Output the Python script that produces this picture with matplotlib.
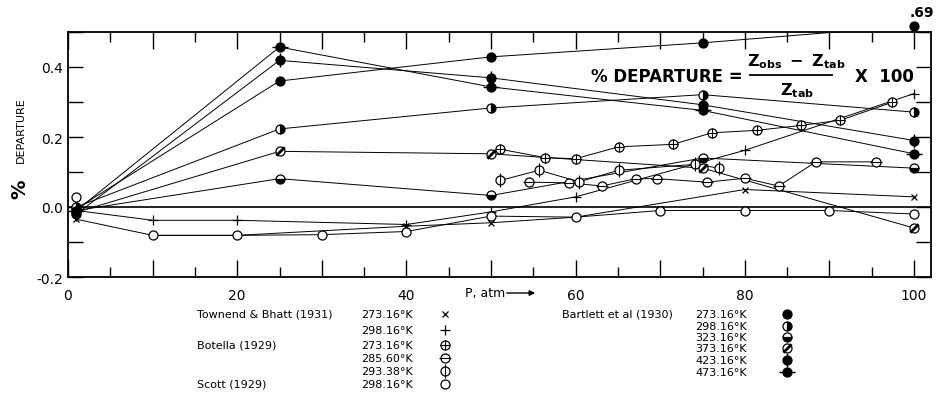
import numpy as np
import matplotlib
matplotlib.use("Agg")
import matplotlib.pyplot as plt
from matplotlib.path import Path
from matplotlib.lines import Line2D
from matplotlib.ticker import FixedLocator, MultipleLocator, FuncFormatter

# Bartlett et al (1930)
bartlett_p = [1, 25, 50, 75, 100]
bartlett_273 = [-0.005, 0.36, 0.429, 0.469, 0.69]
bartlett_298 = [0.0, 0.223, 0.283, 0.321, 0.271]
bartlett_323 = [-0.01, 0.081, 0.033, 0.14, 0.111]
bartlett_373 = [-0.015, 0.159, 0.152, 0.111, -0.06]
bartlett_423 = [-0.02, 0.419, 0.369, 0.292, 0.19]
bartlett_473 = [-0.01, 0.457, 0.343, 0.276, 0.152]

# Townend & Bhatt (1931)
townend_p = [1, 10, 20, 40, 50, 60, 80, 100]
townend_273 = [-0.035, -0.081, -0.081, -0.055, -0.045, -0.029, 0.05, 0.029]
townend_298 = [-0.01, -0.038, -0.038, -0.05, -0.014, 0.029, 0.162, 0.324]

# Scott (1929)
scott_p = [1, 10, 20, 30, 40, 50, 60, 70, 80, 90, 100]
scott_298 = [0.03, -0.081, -0.081, -0.079, -0.07, -0.026, -0.029, -0.01, -0.01, -0.01, -0.02]

# Botella (1929)
botella_273_p = [51.1, 56.4, 60.0, 65.1, 71.5, 76.1, 81.4, 86.6, 91.3, 97.4]
botella_273 = [0.165, 0.141, 0.138, 0.172, 0.179, 0.212, 0.219, 0.233, 0.248, 0.299]
botella_285_p = [54.5, 59.2, 63.1, 67.1, 69.6, 75.5, 80.0, 84.0, 88.4, 95.5]
botella_285 = [0.071, 0.069, 0.06, 0.081, 0.081, 0.071, 0.082, 0.06, 0.129, 0.129]
botella_293_p = [51.1, 55.7, 60.4, 65.1, 74.1, 77.0]
botella_293 = [0.076, 0.105, 0.072, 0.105, 0.122, 0.111]

W, H = 941, 406
SLASH = Path([(-0.8, -0.8), (0.8, 0.8)], [Path.MOVETO, Path.LINETO])


def draw_marker(ax, x, y, kind, **kw):
    k = dict(ls="none", color="k", zorder=4, clip_on=False)
    k.update(kw)
    if kind == "x":
        ax.plot(x, y, marker="x", ms=5, mew=0.9, **k)
    elif kind == "+":
        ax.plot(x, y, marker="+", ms=7, mew=0.9, **k)
    elif kind == "o":
        ax.plot(x, y, marker="o", ms=6.5, mfc="white", mew=0.9, **k)
    elif kind == "oplus":
        ax.plot(x, y, marker="o", ms=6.5, mfc="white", mew=0.9, **k)
        ax.plot(x, y, marker="+", ms=6.5, mew=0.8, **k)
    elif kind == "ominus":
        ax.plot(x, y, marker="o", ms=6.5, mfc="white", mew=0.9, **k)
        ax.plot(x, y, marker="_", ms=9, mew=0.8, **k)
    elif kind == "ophi":
        ax.plot(x, y, marker="o", ms=6.5, mfc="white", mew=0.9, **k)
        ax.plot(x, y, marker="|", ms=10, mew=0.8, **k)
    elif kind == "filled":
        ax.plot(x, y, marker="o", ms=6.5, mfc="black", mew=0.9, **k)
    elif kind == "right":
        ax.plot(x, y, marker="o", ms=6.5, fillstyle="right", mfc="black",
                mfcalt="white", mew=0.9, **k)
    elif kind == "bottom":
        ax.plot(x, y, marker="o", ms=6.5, fillstyle="bottom", mfc="black",
                mfcalt="white", mew=0.9, **k)
    elif kind == "oslash":
        ax.plot(x, y, marker="o", ms=6.5, mfc="white", mew=0.9, **k)
        ax.plot(x, y, marker=SLASH, ms=6, mew=2.0, **k)
    elif kind == "fvert":
        ax.plot(x, y, marker="o", ms=6.5, mfc="black", mew=0.9, **k)
        ax.plot(x, y, marker="|", ms=10, mew=1.0, **k)
    elif kind == "fhoriz":
        ax.plot(x, y, marker="o", ms=6.5, mfc="black", mew=0.9, **k)
        ax.plot(x, y, marker="_", ms=11, mew=1.0, **k)


fig = plt.figure(figsize=(W / 100, H / 100), dpi=100)
ax = fig.add_axes([68 / W, 1 - 278 / H, (931 - 68) / W, (278 - 33) / H])
ax.set_xlim(0, 102)
ax.set_ylim(-0.2, 0.5)

top_cap = 0.518  # off-scale point is drawn just above the frame

series = [
    (bartlett_p, bartlett_273, "filled", 0),
    (bartlett_p, bartlett_298, "right", 0),
    (bartlett_p, bartlett_323, "bottom", 0),
    (bartlett_p, bartlett_373, "oslash", 0),
    (bartlett_p, bartlett_423, "fvert", 0),
    (bartlett_p, bartlett_473, "fhoriz", 0),
    (townend_p, townend_273, "x", 0),
    (townend_p, townend_298, "+", 0),
    (scott_p, scott_298, "o", 1),
    (botella_273_p, botella_273, "oplus", 0),
    (botella_285_p, botella_285, "ominus", 0),
    (botella_293_p, botella_293, "ophi", 0),
]

for p, vals, kind, start in series:
    v = np.minimum(np.array(vals), top_cap)
    ax.plot(p[start:], v[start:], color="black", lw=0.7, zorder=2)
    draw_marker(ax, p, v, kind)

# label for the off-scale value
ax.text(bartlett_p[-1] + 0.9, top_cap + 0.04, f"{bartlett_273[-1]:.2f}".lstrip("0"),
        fontsize=10, fontweight="bold", ha="center", va="center", clip_on=False)

ax.axhline(0, color="black", lw=1.2, zorder=1)

# axes styling
for s in ax.spines.values():
    s.set_linewidth(1.3)
ax.xaxis.set_major_locator(FixedLocator(np.arange(0, 101, 10)))
ax.xaxis.set_minor_locator(FixedLocator(np.arange(5, 101, 10)))
ax.xaxis.set_major_formatter(FuncFormatter(lambda v, p: f"{int(v)}" if v % 20 == 0 else ""))
ax.yaxis.set_major_locator(MultipleLocator(0.1))
ax.yaxis.set_major_formatter(FuncFormatter(
    lambda v, p: f"{v:.1f}" if round(v * 10) % 2 == 0 else ""))
ax.tick_params(axis="x", which="major", direction="in", top=True, length=12,
               width=1.0, labelsize=10, pad=8)
ax.tick_params(axis="x", which="minor", direction="in", top=True, length=7, width=1.0)
ax.tick_params(axis="y", which="major", direction="in", right=True, length=11,
               width=1.0, labelsize=10)

# y label: big % and small DEPARTURE
fig.text(20 / W, 1 - 189 / H, "%", fontsize=14, fontweight="bold", rotation=90,
         ha="center", va="center")
fig.text(21 / W, 1 - 130 / H, "DEPARTURE", fontsize=8, rotation=90,
         ha="center", va="center")

# x label with arrow
fig.text(465 / W, 1 - 294 / H, "P, atm", fontsize=9, ha="left", va="center")
ax.annotate("", xy=(538 / W, 1 - 294 / H), xytext=(504 / W, 1 - 294 / H),
            xycoords="figure fraction",
            arrowprops=dict(arrowstyle="-|>", color="black", lw=1.0,
                            mutation_scale=8))

# formula
fig.text(591 / W, 1 - 77 / H, "% DEPARTURE =", fontsize=12, fontweight="bold",
         ha="left", va="center")
fig.text(796 / W, 1 - 62 / H, r"$\mathbf{Z_{obs}\ -\ Z_{tab}}$", fontsize=11.5,
         ha="center", va="center")
fig.add_artist(Line2D([750 / W, 832 / W], [1 - 76 / H, 1 - 76 / H], color="black", lw=1.3))
fig.text(797 / W, 1 - 91 / H, r"$\mathbf{Z_{tab}}$", fontsize=11.5,
         ha="center", va="center")
fig.text(855 / W, 1 - 77 / H, "X  100", fontsize=12, fontweight="bold",
         ha="left", va="center")

# key below the plot
fs = 8
key_left = [
    ("Townend & Bhatt (1931)", "273.16°K", "x", 315),
    ("", "298.16°K", "+", 331),
    ("Botella (1929)", "273.16°K", "oplus", 346),
    ("", "285.60°K", "ominus", 359),
    ("", "293.38°K", "ophi", 372),
    ("Scott (1929)", "298.16°K", "o", 385),
]
for name, temp, kind, yy in key_left:
    fig.text(197 / W, 1 - yy / H, name, fontsize=fs, ha="left", va="center")
    fig.text(361 / W, 1 - yy / H, temp, fontsize=fs, ha="left", va="center")
    draw_marker(ax, [445 / W], [1 - yy / H], kind, transform=fig.transFigure)

key_right = [
    ("Bartlett et al (1930)", "273.16°K", "filled", 315),
    ("", "298.16°K", "right", 327),
    ("", "323.16°K", "bottom", 338),
    ("", "373.16°K", "oslash", 349),
    ("", "423.16°K", "fvert", 361),
    ("", "473.16°K", "fhoriz", 373),
]
for name, temp, kind, yy in key_right:
    fig.text(562 / W, 1 - yy / H, name, fontsize=fs, ha="left", va="center")
    fig.text(695 / W, 1 - yy / H, temp, fontsize=fs, ha="left", va="center")
    draw_marker(ax, [787 / W], [1 - yy / H], kind, transform=fig.transFigure)

fig.savefig("out.png", dpi=100)
